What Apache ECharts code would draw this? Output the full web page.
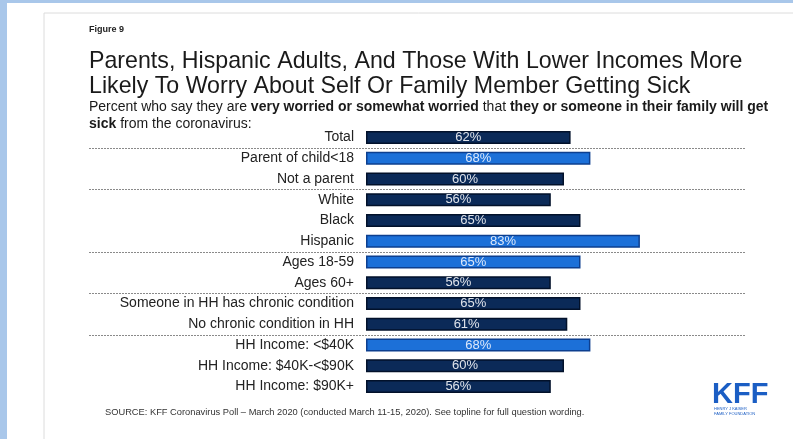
<!DOCTYPE html>
<html>
<head>
<meta charset="utf-8">
<script src="https://cdn.jsdelivr.net/npm/echarts@6/dist/echarts.min.js"></script>
<style>
  html, body { margin: 0; padding: 0; background: #fff; }
  #chart { width: 793px; height: 439px; }
</style>
</head>
<body>
<div id="chart"></div>
<script>
// data
var categories = [
  "Total", "Parent of child<18", "Not a parent", "White", "Black", "Hispanic",
  "Ages 18-59", "Ages 60+", "Someone in HH has chronic condition",
  "No chronic condition in HH", "HH Income: <$40K", "HH Income: $40K-<$90K",
  "HH Income: $90K+"
];
var values = [62, 68, 60, 56, 65, 83, 65, 56, 65, 61, 68, 60, 56];
var highlighted = ["Parent of child<18", "Hispanic", "Ages 18-59", "HH Income: <$40K"];
// a dotted rule is drawn under each of these groups
var groupEnds = ["Total", "Not a parent", "Hispanic", "Ages 60+", "No chronic condition in HH"];

var FONT = "Liberation Sans, Arial, sans-serif";
var DARK = "#0b2a58", LIGHT = "#1c70d8";

var chart = echarts.init(document.getElementById("chart"));

var baseGraphic = [
  // screenshot frame
  { type: "rect", id: "frameL", shape: { x: 0, y: 0, width: 7, height: 439 }, style: { fill: "#a9c7ea" } },
  { type: "rect", id: "frameT", shape: { x: 0, y: 0, width: 793, height: 3 }, style: { fill: "#a9c7ea" } },
  { type: "line", id: "slideL", shape: { x1: 44, y1: 13, x2: 44, y2: 439 }, style: { stroke: "#dcdcdc", lineWidth: 1 } },
  { type: "line", id: "slideT", shape: { x1: 44, y1: 13, x2: 793, y2: 13 }, style: { stroke: "#dcdcdc", lineWidth: 1 } },
  {
    type: "text", id: "fig", left: 89, top: 25,
    style: { text: "Figure 9", font: "bold 9px " + FONT, fill: "#222" }
  },
  {
    type: "text", id: "title", left: 89, top: 49,
    style: {
      text: "Parents, Hispanic Adults, And Those With Lower Incomes More\nLikely To Worry About Self Or Family Member Getting Sick",
      font: "23.2px " + FONT, fill: "#1a1a1a", lineHeight: 25
    }
  },
  {
    type: "text", id: "sub", left: 89, top: 99,
    style: {
      text: "Percent who say they are {b|very worried or somewhat worried} that {b|they or someone in their family will get}\n{b|sick} from the coronavirus:",
      font: "14px " + FONT, fill: "#1a1a1a", lineHeight: 17,
      rich: { b: { fontWeight: "bold", fontSize: 14, fontFamily: FONT, fill: "#1a1a1a", lineHeight: 17 } }
    }
  },
  {
    type: "text", id: "source", left: 105, top: 408,
    style: {
      text: "SOURCE: KFF Coronavirus Poll \u2013 March 2020 (conducted March 11-15, 2020). See topline for full question wording.",
      font: "9.3px " + FONT, fill: "#333"
    }
  },
  {
    type: "text", id: "kff", left: 712, top: 380,
    style: { text: "KFF", font: "bold 29px " + FONT, fill: "#1b5ec4" }
  },
  {
    type: "text", id: "kffsub", left: 714, top: 406,
    style: { text: "HENRY J KAISER\nFAMILY FOUNDATION", font: "4px " + FONT, fill: "#1b5ec4", lineHeight: 5 }
  }
];

chart.setOption({
  animation: false,
  backgroundColor: "#fff",
  grid: { left: 366, right: 97, top: 127, bottom: 42, containLabel: false },
  xAxis: { type: "value", min: 0, max: 100, show: false },
  yAxis: {
    type: "category",
    data: categories,
    inverse: true,
    axisLine: { show: false },
    axisTick: { show: false },
    splitLine: { show: false },
    axisLabel: { fontSize: 14, fontFamily: FONT, color: "#222", margin: 12 }
  },
  series: [{
    type: "bar",
    barWidth: 13,
    data: values.map(function (v, i) {
      var hi = highlighted.indexOf(categories[i]) >= 0;
      return {
        value: v,
        itemStyle: {
          color: hi ? LIGHT : DARK,
          borderColor: hi ? "#0d3f8f" : "#02112a",
          borderWidth: 1.5
        },
        label: { color: hi ? "#dce8fb" : "#dfe3ea" }
      };
    }),
    label: {
      show: true,
      position: "inside",
      formatter: "{c}%",
      fontSize: 13,
      fontFamily: FONT
    }
  }],
  graphic: baseGraphic
});

// dotted group rules, placed halfway between neighbouring categories
var rules = groupEnds.map(function (name, k) {
  var i = categories.indexOf(name);
  var y = (chart.convertToPixel({ yAxisIndex: 0 }, categories[i]) +
           chart.convertToPixel({ yAxisIndex: 0 }, categories[i + 1])) / 2;
  y = Math.round(y) + 0.5;
  return {
    type: "line", id: "rule" + k,
    shape: { x1: 89, y1: y, x2: 746, y2: y },
    style: { stroke: "#8a8a8a", lineWidth: 1, lineDash: [2, 1] }
  };
});
chart.setOption({ graphic: baseGraphic.concat(rules) });
</script>
</body>
</html>
